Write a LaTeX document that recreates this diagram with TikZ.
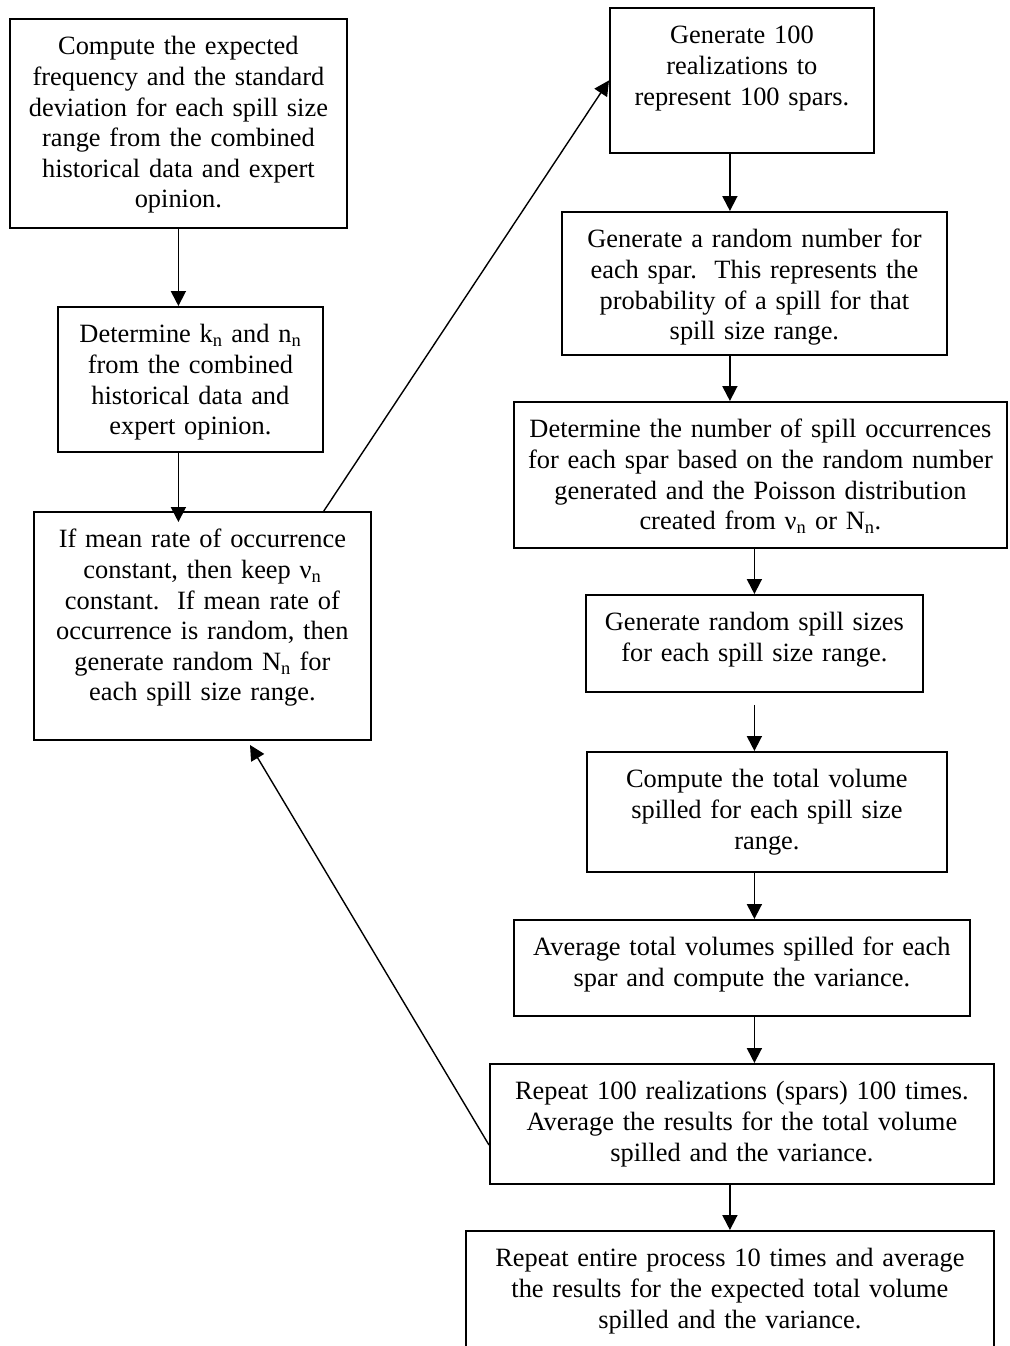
\documentclass[tikz,border=0pt]{standalone}
\usepackage{fontspec}
\setmainfont{Liberation Serif}
\usetikzlibrary{arrows.meta}
\tikzset{
    stepbox/.style 2 args={draw, line width=1.8pt, inner sep=0pt, anchor=north west, align=center,
        text width=#1pt, text height=36pt, text depth=#2pt, font=\fontsize{26.4}{30.6}\selectfont\frenchspacing},
    flow/.style={-{Triangle[length=15pt,width=15pt]}, line width=1.8pt},
    backflow/.style={flow, line width=1.4pt}
}
\begin{document}
\begin{tikzpicture}[x=1pt,y=-1pt]
        \useasboundingbox (0,0) rectangle (1009,1346);
        \foreach \n/\x/\y/\w/\d/\t in {
            freq/9/18/337/173/{Compute the expected\\frequency and the standard\\deviation for each spill size\\range from the combined\\historical data and expert\\opinion.},
            kn/57/306/265/109/{Determine k\textsubscript{n} and n\textsubscript{n}\\from the combined\\historical data and\\expert opinion.},
            rate/33/511/337/192/{If mean rate of occurrence\\constant, then keep ν\textsubscript{n}\\constant.~ If mean rate of\\occurrence is random, then\\generate random N\textsubscript{n} for\\each spill size range.},
            gen/609/7/264/109/{Generate 100\\realizations to\\represent 100 spars.},
            rand/561/211/385/107/{Generate a random number for\\each spar.~ This represents the\\probability of a spill for that\\spill size range.},
            occ/513/401/493/110/{Determine the number of spill occurrences\\for each spar based on the random number\\generated and the Poisson distribution\\created from ν\textsubscript{n} or N\textsubscript{n}.},
            sizes/585/594/337/61/{Generate random spill sizes\\for each spill size range.},
            vol/586/751/360/84/{Compute the total volume\\spilled for each spill size\\range.},
            avg/513/919/456/60/{Average total volumes spilled for each\\spar and compute the variance.},
            rep/489/1063/504/84/{Repeat 100 realizations (spars) 100 times.\\Average the results for the total volume\\spilled and the variance.},
            final/465/1230/528/124/{Repeat entire process 10 times and average\\the results for the expected total volume\\spilled and the variance.}}{
            \node[stepbox={\w}{\d}] (\n) at (\x,\y) {\t};
        }
        \coordinate (back) at (0,1145);
        \coordinate (tip) at (250,745);
        \draw[flow] (freq.south) -- (kn.north -| freq.south);
        \draw[flow, shorten >=-11pt] (kn.south -| freq.south) -- (rate.north -| freq.south);
        \draw[backflow] (rate.north -| kn.east) -- (gen.west);
        \draw[flow] (gen.south -| final) -- (rand.north -| final);
        \draw[flow] (rand.south -| final) -- (occ.north -| final);
        \draw[flow] (occ.south -| sizes) -- (sizes.north);
        \draw[flow, shorten <=12pt] (sizes.south) -- (vol.north -| sizes);
        \draw[flow] (vol.south -| sizes) -- (avg.north -| sizes);
        \draw[flow] (avg.south -| sizes) -- (rep.north -| sizes);
        \draw[flow] (rep.south -| final) -- (final.north);
        \draw[backflow] (rep.west |- back) -- (tip);
    \end{tikzpicture}
\end{document}
